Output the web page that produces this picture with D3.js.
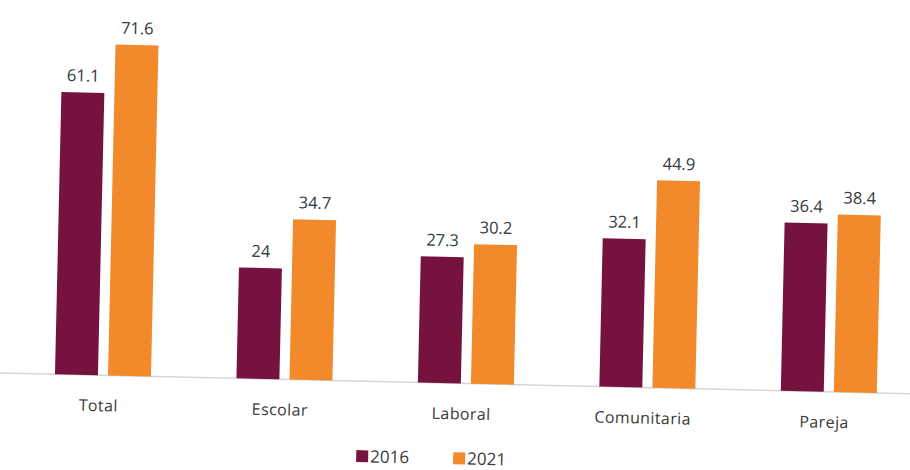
<!DOCTYPE html>
<html>
<head>
<meta charset="utf-8">
<script src="https://cdn.jsdelivr.net/npm/d3@7"></script>
<style>
    body { margin: 0; background: #fff; }
    svg { display: block; }
    .val { font-family: "Open Sans", sans-serif; font-size: 16.5px; fill: #2f3a3a; }
    .cat { font-family: "Open Sans", sans-serif; font-size: 16px; fill: #3a3a3a; letter-spacing: 0.4px; }
    .leg { font-family: "Open Sans", sans-serif; font-size: 17px; fill: #3a3a3a; }
</style>
</head>
<body>
<div id="chart"></div>
<script>
// categorias y series
var categories = ["Total", "Escolar", "Laboral", "Comunitaria", "Pareja"];
var years = ["2016", "2021"];
var values2016 = [61.1, 24, 27.3, 32.1, 36.4];
var values2021 = [71.6, 34.7, 30.2, 44.9, 38.4];
var labels2016 = ["61.1", "24", "27.3", "32.1", "36.4"];
var labels2021 = ["71.6", "34.7", "30.2", "44.9", "38.4"];

var colors = { "2016": "#76123f", "2021": "#f28a2c" };

var W = 910, H = 470;
var base = 373;   // linea base (antes de girar)
var tilt = 1.3;   // la hoja escaneada esta un poco girada

var svg = d3.select("#chart").append("svg")
    .attr("width", W)
    .attr("height", H);

var g = svg.append("g")
    .attr("transform", "rotate(" + tilt + ",0," + base + ")");

var x = d3.scalePoint()
    .domain(categories)
    .range([103, 829]);

var xs = d3.scaleBand()
    .domain(years)
    .range([-48, 48])
    .paddingInner(0.19);

var y = d3.scaleLinear()
    .domain([0, 80.7])
    .range([base, 0]);

var rows = categories.map(function(c, i) {
    return {
        cat: c,
        bars: [
            { year: "2016", v: values2016[i], label: labels2016[i] },
            { year: "2021", v: values2021[i], label: labels2021[i] }
        ]
    };
});

// linea base
g.append("line")
    .attr("x1", -20)
    .attr("x2", W + 20)
    .attr("y1", y(0))
    .attr("y2", y(0))
    .attr("stroke", "#d6d6d6")
    .attr("stroke-width", 1.5);

var groups = g.selectAll(".grp")
    .data(rows)
    .enter().append("g")
    .attr("class", "grp")
    .attr("transform", function(d) { return "translate(" + x(d.cat) + ",0)"; });

groups.selectAll("rect")
    .data(function(d) { return d.bars; })
    .enter().append("rect")
    .attr("x", function(d) { return xs(d.year); })
    .attr("width", xs.bandwidth())
    .attr("y", function(d) { return y(d.v); })
    .attr("height", function(d) { return y(0) - y(d.v); })
    .attr("fill", function(d) { return colors[d.year]; });

groups.selectAll("text.val")
    .data(function(d) { return d.bars; })
    .enter().append("text")
    .attr("class", "val")
    .attr("x", function(d) { return xs(d.year) + xs.bandwidth() / 2; })
    .attr("y", function(d) { return y(d.v) - 11; })
    .attr("text-anchor", "middle")
    .text(function(d) { return d.label; });

groups.append("text")
    .attr("class", "cat")
    .attr("x", -4)
    .attr("y", 409)
    .attr("text-anchor", "middle")
    .text(function(d) { return d.cat; });

// leyenda
var legX = [358, 455];
var leg = g.selectAll(".leg-item")
    .data(years)
    .enter().append("g")
    .attr("transform", function(d, i) { return "translate(" + legX[i] + ",442)"; });

leg.append("rect")
    .attr("width", 12)
    .attr("height", 12)
    .attr("fill", function(d) { return colors[d]; });

leg.append("text")
    .attr("class", "leg")
    .attr("x", 14)
    .attr("y", 12)
    .text(function(d) { return d; });
</script>
</body>
</html>
